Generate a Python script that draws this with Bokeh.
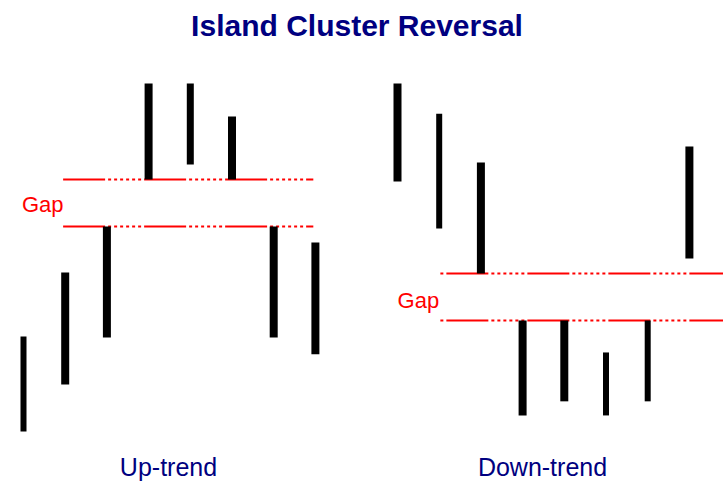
from bokeh.plotting import figure
from bokeh.models import Range1d, Label, ColumnDataSource
from bokeh.embed import file_html
from bokeh.resources import INLINE

# ---------------- data ----------------
days = [1, 2, 3, 4, 5, 6, 7, 8]

# Up-trend example (island cluster above the gap)
up_high = [26.6, 40.2, 50.0, 80.4, 80.4, 73.4, 50.0, 46.6]
up_low = [6.4, 16.4, 26.4, 60.0, 63.2, 60.0, 26.4, 22.8]
up_gap_levels = [60.0, 50.0]

# Down-trend example (island cluster below the gap)
down_high = [80.4, 74.0, 63.6, 30.0, 30.0, 23.2, 30.0, 67.0]
down_low = [59.6, 49.6, 40.0, 9.8, 12.8, 9.8, 12.8, 43.2]
down_gap_levels = [40.0, 30.0]

title_text = "Island Cluster Reversal"
panel_labels = ["Up-trend", "Down-trend"]
gap_label = "Gap"

# ---------------- layout / style ----------------
W, H = 723, 483
PX_PER_DAY = 41.7
PX_PER_UNIT = 4.7
LEFT_DAY1_PX = 23      # figure px of day 1, left panel
RIGHT_DAY1_PX = 397    # figure px of day 1, right panel
ZERO_PX = 461          # figure px (from top) of value 0

def xr(day1_px):
    return Range1d(1 - day1_px / PX_PER_DAY, 1 + (W - day1_px) / PX_PER_DAY)

p = figure(width=W, height=H, output_backend="svg", toolbar_location=None,
           x_axis_location=None, y_axis_location=None,
           min_border=0, min_border_left=0, min_border_right=0,
           min_border_top=0, min_border_bottom=0,
           x_range=xr(LEFT_DAY1_PX),
           y_range=Range1d(-(H - ZERO_PX) / PX_PER_UNIT, ZERO_PX / PX_PER_UNIT))
p.extra_x_ranges = {"down": xr(RIGHT_DAY1_PX)}
p.xgrid.visible = False
p.ygrid.visible = False
p.outline_line_color = None
p.background_fill_color = "white"
p.border_fill_color = "white"

DASH = "42 3 3 3 3 3 3 3 3 3 3 3 3 3"
RED = "#FF0000"
NAVY = "#000080"

# gap lines
p.segment(x0=[1.95, 1.95], x1=[7.95, 7.95], y0=up_gap_levels, y1=up_gap_levels,
          line_color=RED, line_width=2, line_dash=DASH)
p.segment(x0=[1.98, 1.98], x1=[9.0, 9.0], y0=down_gap_levels, y1=down_gap_levels,
          line_color=RED, line_width=2, line_dash=DASH, line_dash_offset=73,
          x_range_name="down")

# bars
up_src = ColumnDataSource(dict(day=days, high=up_high, low=up_low,
                               w=[6, 8, 8, 8, 7, 8, 8, 8]))
down_src = ColumnDataSource(dict(day=days, high=down_high, low=down_low,
                                 w=[8, 6, 8, 8, 8, 6, 6, 8]))
p.segment(x0="day", x1="day", y0="low", y1="high", line_width="w",
          line_color="black", source=up_src)
p.segment(x0="day", x1="day", y0="low", y1="high", line_width="w",
          line_color="black", source=down_src, x_range_name="down")

# texts
p.add_layout(Label(x=8.998, y=92.8, text=title_text, text_align="center",
                   text_baseline="alphabetic", text_color=NAVY,
                   text_font="Liberation Sans", text_font_style="bold",
                   text_font_size="30px"))
p.add_layout(Label(x=4.477, y=-1.2, text=panel_labels[0], text_align="center",
                   text_baseline="alphabetic", text_color=NAVY,
                   text_font="Liberation Sans", text_font_size="25px"))
p.add_layout(Label(x=4.477, y=-1.2, text=panel_labels[1], text_align="center",
                   text_baseline="alphabetic", text_color=NAVY,
                   text_font="Liberation Sans", text_font_size="25px",
                   x_range_name="down"))
p.add_layout(Label(x=1.96, y=54.7, text=gap_label, text_align="right",
                   text_baseline="alphabetic", text_color=RED,
                   text_font="Liberation Sans", text_font_size="22px"))
p.add_layout(Label(x=2.0, y=34.2, text=gap_label, text_align="right",
                   text_baseline="alphabetic", text_color=RED,
                   text_font="Liberation Sans", text_font_size="22px",
                   x_range_name="down"))

open("out.html", "w").write(file_html(p, INLINE))
